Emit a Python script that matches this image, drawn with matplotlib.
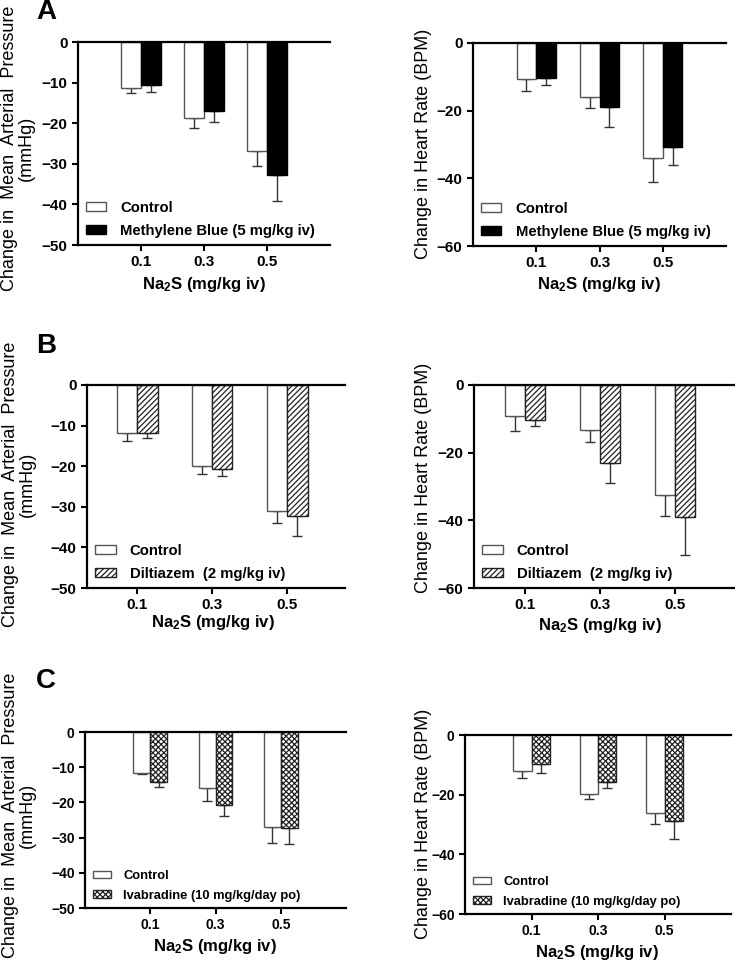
import numpy as np
import matplotlib
matplotlib.use("Agg")
import matplotlib.pyplot as plt

plt.rcParams['font.family'] = ['Liberation Sans', 'DejaVu Sans']
plt.rcParams['font.weight'] = 'bold'
plt.rcParams['mathtext.fontset'] = 'custom'
plt.rcParams['mathtext.rm'] = 'Liberation Sans:bold'
plt.rcParams['mathtext.default'] = 'rm'
plt.rcParams['hatch.linewidth'] = 0.9

# Na2S doses
doses = ["0.1", "0.3", "0.5"]

# panel A: methylene blue
a_map_ctrl = [-11.3, -18.7, -26.8]
a_map_ctrl_sem = [1.2, 2.6, 3.7]
a_map_mb = [-10.6, -17.1, -32.7]
a_map_mb_sem = [1.7, 2.5, 6.4]
a_hr_ctrl = [-10.7, -16.0, -34.0]
a_hr_ctrl_sem = [3.4, 3.2, 7.0]
a_hr_mb = [-10.4, -18.8, -30.6]
a_hr_mb_sem = [1.9, 6.0, 5.6]

# panel B: diltiazem
b_map_ctrl = [-11.9, -20.0, -31.1]
b_map_ctrl_sem = [1.9, 1.8, 2.9]
b_map_dil = [-11.8, -20.6, -32.2]
b_map_dil_sem = [1.3, 1.9, 5.1]
b_hr_ctrl = [-9.1, -13.4, -32.4]
b_hr_ctrl_sem = [4.5, 3.4, 6.4]
b_hr_dil = [-10.2, -23.0, -39.0]
b_hr_dil_sem = [1.9, 5.9, 11.3]

# panel C: ivabradine
c_map_ctrl = [-11.6, -15.9, -26.9]
c_map_ctrl_sem = [0.4, 3.8, 4.5]
c_map_iva = [-14.1, -20.7, -27.2]
c_map_iva_sem = [1.6, 3.2, 4.7]
c_hr_ctrl = [-12.0, -19.7, -26.3]
c_hr_ctrl_sem = [2.5, 1.9, 3.4]
c_hr_iva = [-9.7, -15.6, -28.8]
c_hr_iva_sem = [2.9, 2.2, 5.9]

W, H = 735.0, 963.0
fig = plt.figure(figsize=(W / 100, H / 100), dpi=100)


def rect(x0, x1, ytop, ybot):
    return [x0 / W, 1 - ybot / H, (x1 - x0) / W, (ybot - ytop) / H]


def panel(box, ctrl, ctrl_sem, drug, drug_sem, drug_label, drug_style,
          ymin, ystep, xlim, width, fs=11, legfs=10.7, leg_xy=(0.03, 0.035)):
    ax = fig.add_axes(rect(*box))
    x = np.arange(1, len(doses) + 1)
    b1 = ax.bar(x - width / 2, ctrl, width, color='white', edgecolor='#555555',
                linewidth=1.0, label='Control', zorder=2)
    b2 = ax.bar(x + width / 2, drug, width, label=drug_label, zorder=2, **drug_style)
    # one-sided (downward) SEM bars
    for xs, m, s in [(x - width / 2, ctrl, ctrl_sem), (x + width / 2, drug, drug_sem)]:
        ax.errorbar(xs, m, yerr=[s, np.zeros(len(s))], fmt='none', ecolor='#333333',
                    elinewidth=1.0, capsize=3.5, capthick=1.0, zorder=1)
    ax.set_xlim(*xlim)
    ax.set_ylim(ymin, 0)
    ax.set_yticks(np.arange(ymin, 1, ystep))
    ax.set_xticks(x)
    ax.set_xticklabels(doses)
    for sp in ['left', 'bottom', 'top']:
        ax.spines[sp].set_linewidth(1.6)
    ax.spines['right'].set_visible(False)
    ax.tick_params(direction='out', length=4, width=1.5, labelsize=fs, top=False, right=False)
    for lab in ax.get_xticklabels() + ax.get_yticklabels():
        lab.set_fontweight('bold')
    ax.legend(handles=[b1, b2], loc='lower left', bbox_to_anchor=leg_xy, frameon=False,
              fontsize=legfs, handlelength=1.4, handleheight=0.55, handletextpad=0.95,
              labelspacing=0.6, borderpad=0, borderaxespad=0)
    return ax


black = dict(color='black', edgecolor='black', linewidth=1.0)
hatch_dil = dict(color='white', edgecolor='#222222', linewidth=1.0, hatch='//////')
hatch_iva = dict(color='white', edgecolor='#222222', linewidth=1.0, hatch='xxxxxx')

panel((78, 330, 42, 245), a_map_ctrl, a_map_ctrl_sem, a_map_mb, a_map_mb_sem,
      'Methylene Blue (5 mg/kg iv)', black, -50, 10, (0, 4), 0.32)
panel((473, 726, 43, 246), a_hr_ctrl, a_hr_ctrl_sem, a_hr_mb, a_hr_mb_sem,
      'Methylene Blue (5 mg/kg iv)', black, -60, 20, (0, 4), 0.31)
panel((87, 345, 385, 588), b_map_ctrl, b_map_ctrl_sem, b_map_dil, b_map_dil_sem,
      'Diltiazem  (2 mg/kg iv)', hatch_dil, -50, 10, (0.33, 3.77), 0.27)
panel((474, 735, 385, 588), b_hr_ctrl, b_hr_ctrl_sem, b_hr_dil, b_hr_dil_sem,
      'Diltiazem  (2 mg/kg iv)', hatch_dil, -60, 20, (0.32, 3.8), 0.27)
panel((85, 346, 732, 908), c_map_ctrl, c_map_ctrl_sem, c_map_iva, c_map_iva_sem,
      'Ivabradine (10 mg/kg/day po)', hatch_iva, -50, 10, (0, 4), 0.26, fs=10, legfs=9.3)
panel((465, 731, 735, 914), c_hr_ctrl, c_hr_ctrl_sem, c_hr_iva, c_hr_iva_sem,
      'Ivabradine (10 mg/kg/day po)', hatch_iva, -60, 20, (0, 4), 0.275, fs=10, legfs=9.3)

# axis labels placed in pixel coordinates
map_lab = 'Change in  Mean  Arterial  Pressure\n(mmHg)'
hr_lab = 'Change in Heart Rate (BPM)'
xlab = 'Na$_2$S (mg/kg iv)'
for px, py, txt in [(18, 148, map_lab), (424, 144, hr_lab), (19, 484, map_lab),
                    (424, 478, hr_lab), (19, 815, map_lab), (424, 824, hr_lab)]:
    fig.text(px / W, 1 - py / H, txt, rotation=90, ha='center', va='center',
             multialignment='center', fontsize=13, fontweight='normal', linespacing=1.0)
for px, py in [(204, 285), (599, 285), (213, 623), (600, 625), (215, 946), (597, 952)]:
    fig.text(px / W, 1 - py / H, xlab, ha='center', va='center', fontsize=12,
             fontweight='bold')

for py, letter in [(12, 'A'), (346, 'B'), (681, 'C')]:
    fig.text(46 / W, 1 - py / H, letter, ha='center', va='center', fontsize=20,
             fontweight='bold')

fig.savefig('out.png', dpi=100)
plt.close(fig)
